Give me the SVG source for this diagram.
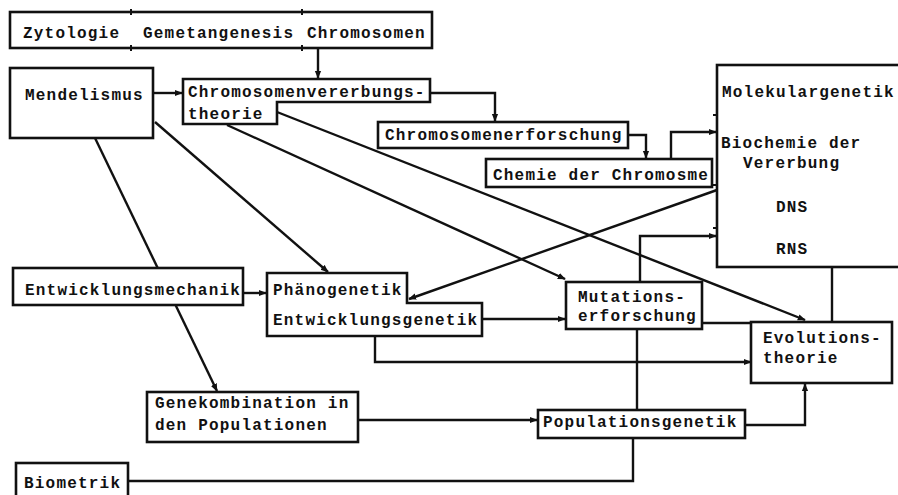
<svg xmlns="http://www.w3.org/2000/svg" width="898" height="495" viewBox="0 0 898 495">
<style>
.box{fill:#fff;stroke:#111;stroke-width:2.6}
.ln{fill:none;stroke:#111;stroke-width:2.4}
.tk{stroke:#111;stroke-width:2}
text{font-family:"Liberation Mono","DejaVu Sans Mono",monospace;font-size:16px;font-weight:bold;letter-spacing:1.2px;fill:#111}
</style>
<defs>
<marker id="a" viewBox="0 0 10 10" refX="9" refY="5" markerWidth="8" markerHeight="8" markerUnits="userSpaceOnUse" orient="auto">
<path d="M0,1 L10,5 L0,9 Z" fill="#111"/>
</marker>
</defs>
<rect width="898" height="495" fill="#fff"/>
<g id="connectors">
<line class="ln" x1="318" y1="48" x2="318" y2="78" marker-end="url(#a)"/>
<line class="ln" x1="153" y1="93" x2="182" y2="93" marker-end="url(#a)"/>
<polyline class="ln" points="430,93 495,93 495,121" marker-end="url(#a)"/>
<polyline class="ln" points="628,135 646,135 646,158" marker-end="url(#a)"/>
<polyline class="ln" points="671,159 671,132 716,132" marker-end="url(#a)"/>
<line class="ln" x1="717" y1="190" x2="409" y2="299" marker-end="url(#a)"/>
<line class="ln" x1="155" y1="122" x2="328" y2="272" marker-end="url(#a)"/>
<line class="ln" x1="95" y1="138" x2="217" y2="391" marker-end="url(#a)"/>
<line class="ln" x1="243" y1="293" x2="266" y2="293" marker-end="url(#a)"/>
<line class="ln" x1="227" y1="125" x2="565" y2="279" marker-end="url(#a)"/>
<line class="ln" x1="277" y1="112" x2="805" y2="320" marker-end="url(#a)"/>
<polyline class="ln" points="640,282 640,236 716,236" marker-end="url(#a)"/>
<line class="ln" x1="482" y1="319" x2="565" y2="319" marker-end="url(#a)"/>
<polyline class="ln" points="375,336 375,362 751,362" marker-end="url(#a)"/>
<line class="ln" x1="702" y1="323" x2="752" y2="323"/>
<line class="ln" x1="832" y1="267" x2="832" y2="322"/>
<line class="ln" x1="637" y1="329" x2="637" y2="410"/>
<line class="ln" x1="358" y1="420" x2="537" y2="420" marker-end="url(#a)"/>
<polyline class="ln" points="128,481 633,481 633,438"/>
<polyline class="ln" points="745,425 805,425 805,384" marker-end="url(#a)"/>
</g>
<g id="zytologie">
<rect class="box" x="10" y="12" width="422" height="36"/>
<line class="tk" x1="131" y1="9" x2="131" y2="15"/>
<line class="tk" x1="302" y1="9" x2="302" y2="15"/>
<line class="tk" x1="131" y1="45" x2="131" y2="51"/>
<line class="tk" x1="302" y1="45" x2="302" y2="51"/>
<text x="23" y="38">Zytologie</text>
<text x="143" y="38">Gemetangenesis</text>
<text x="307" y="38">Chromosomen</text>
</g>
<g id="mendelismus">
<rect class="box" x="10" y="68" width="143" height="70"/>
<text x="25" y="100">Mendelismus</text>
</g>
<g id="chromosomenvererbungstheorie">
<path class="box" d="M183 79 H430 V102 H277 V124 H183 Z"/>
<text x="188" y="97">Chromosomenvererbungs-</text>
<text x="188" y="119">theorie</text>
</g>
<g id="chromosomenerforschung">
<rect class="box" x="378" y="122" width="250" height="26"/>
<text x="385" y="140">Chromosomenerforschung</text>
</g>
<g id="chemie">
<rect class="box" x="486" y="159" width="226" height="28"/>
<text x="493" y="180">Chemie der Chromosme</text>
</g>
<g id="molekulargenetik">
<rect class="box" x="717" y="65" width="186" height="202"/>
<line class="tk" x1="713" y1="115" x2="717" y2="115"/>
<line class="tk" x1="713" y1="185" x2="717" y2="185"/>
<line class="tk" x1="713" y1="228" x2="717" y2="228"/>
<text x="722" y="97">Molekulargenetik</text>
<text x="721" y="148">Biochemie der</text>
<text x="743" y="168">Vererbung</text>
<text x="776" y="212">DNS</text>
<text x="776" y="254">RNS</text>
</g>
<g id="entwicklungsmechanik">
<rect class="box" x="13" y="268" width="230" height="37"/>
<text x="25" y="295">Entwicklungsmechanik</text>
</g>
<g id="phaenogenetik">
<path class="box" d="M267 273 H407 V303 H482 V336 H267 Z"/>
<text x="273" y="295">Phänogenetik</text>
<text x="273" y="325">Entwicklungsgenetik</text>
</g>
<g id="mutationsforschung">
<rect class="box" x="566" y="282" width="136" height="47"/>
<text x="578" y="302">Mutations-</text>
<text x="578" y="321">erforschung</text>
</g>
<g id="evolutionstheorie">
<rect class="box" x="751" y="322" width="141" height="61"/>
<text x="763" y="343">Evolutions-</text>
<text x="763" y="363">theorie</text>
</g>
<g id="genekombination">
<rect class="box" x="147" y="392" width="211" height="50"/>
<text x="155" y="408">Genekombination in</text>
<text x="155" y="430">den Populationen</text>
</g>
<g id="populationsgenetik">
<rect class="box" x="538" y="410" width="207" height="28"/>
<text x="543" y="427">Populationsgenetik</text>
</g>
<g id="biometrik">
<rect class="box" x="16" y="463" width="112" height="40"/>
<text x="24" y="488">Biometrik</text>
</g>
</svg>
